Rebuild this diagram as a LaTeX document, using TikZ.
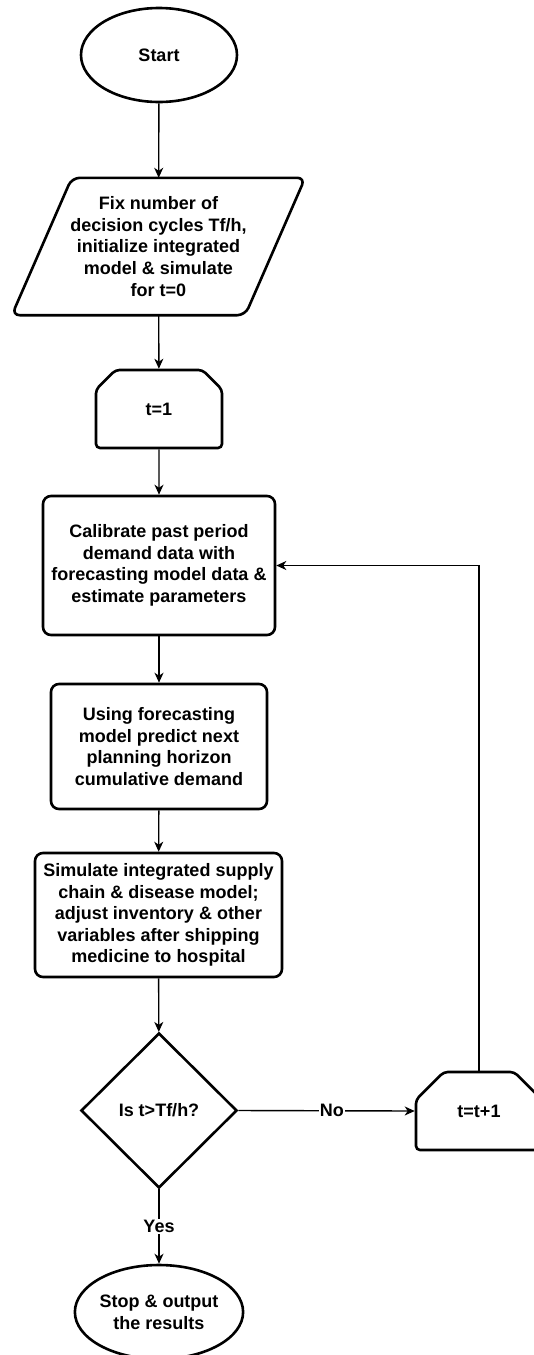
\documentclass[tikz,border=0pt]{standalone}
\usepackage{fontspec}
\setmainfont{Liberation Sans}
\usetikzlibrary{shapes.geometric,shapes.misc,arrows.meta}

\begin{document}
\begin{tikzpicture}[x=1pt,y=-1pt,
    every node/.style={font=\fontsize{18}{21.6}\selectfont\bfseries,align=center},
    boxline/.style={draw,line width=2.6pt},
    terminal/.style={boxline,ellipse,minimum width=156pt,minimum height=94pt,inner sep=0pt},
    process/.style={boxline,rectangle,rounded corners=8pt,inner sep=0pt},
    loopbox/.style={boxline,chamfered rectangle,chamfered rectangle corners={north west,north east},
        chamfered rectangle xsep=25pt,chamfered rectangle ysep=25pt,
        minimum width=126pt,minimum height=78pt,inner sep=0pt,rounded corners=4pt},
    decision/.style={boxline,diamond,minimum width=156pt,minimum height=155pt,inner sep=0pt},
    flow/.style={line width=1.4pt,-{Stealth[length=10pt,width=9pt,inset=3pt]}},
    flowlabel/.style={fill=white,inner sep=1pt}]
    \useasboundingbox (0,0) rectangle (534,1355);

    % Main column
    \node[terminal] (start) at (159,55) {Start};
    \node[minimum width=233pt,minimum height=137pt,inner sep=0pt] (fix) at (158.5,246.5)
        {Fix number of\\decision cycles Tf/h,\\initialize integrated\\model \& simulate\\for t=0};
    \draw[boxline,rounded corners=8pt] ([xshift=30pt]fix.north west) -- ([xshift=30pt]fix.north east)
        -- ([xshift=-30pt]fix.south east) -- ([xshift=-30pt]fix.south west) -- cycle;
    \node[loopbox] (t1) at (159,409) {t=1};
    \node[process,minimum width=232pt,minimum height=139pt] (calib) at (159,565.5)
        {Calibrate past period\\demand data with\\forecasting model data \&\\estimate parameters};
    \node[process,minimum width=216pt,minimum height=125pt] (predict) at (159,746.5)
        {Using forecasting\\model predict next\\planning horizon\\cumulative demand};
    \node[process,minimum width=247pt,minimum height=124pt] (simul) at (158.5,915)
        {Simulate integrated supply\\chain \& disease model;\\adjust inventory \& other\\variables after shipping\\medicine to hospital};
    \node[decision] (check) at (159,1110.5) {Is t>Tf/h?};
    \node[loopbox] (tinc) at (479,1111) {t=t+1};
    \node[terminal] (stop) at (159,1312) {Stop \& output\\the results};

    % Connectors
    \draw[flow] (start) -- (fix);
    \draw[flow] (fix) -- (t1);
    \draw[flow] (t1) -- (calib);
    \draw[flow] (calib) -- (predict);
    \draw[flow] (predict) -- (simul);
    \draw[flow] (simul) -- (check);
    \draw[flow] (check.east) -- node[flowlabel,pos=0.53] {No} (tinc.west);
    \draw[flow] (check.south) -- node[flowlabel] {Yes} (stop.north);

    % Back to calibration
    \draw[flow] (tinc.north) |- (calib.east);
\end{tikzpicture}
\end{document}
